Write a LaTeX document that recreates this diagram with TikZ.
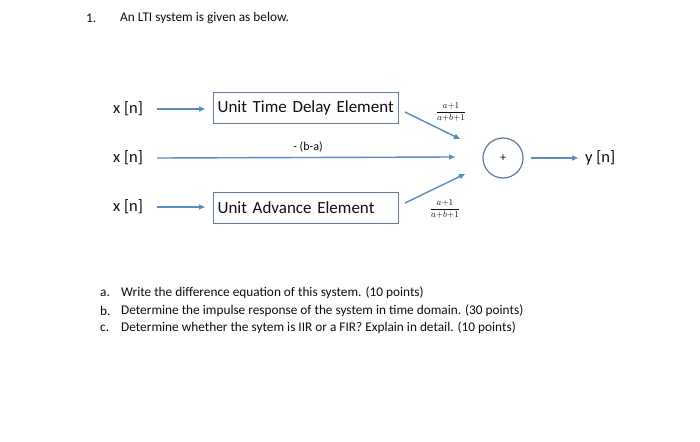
\documentclass[tikz,border=0pt]{standalone}
\usepackage{fontspec}
\setmainfont{Carlito}
\usetikzlibrary{arrows.meta}
\definecolor{ln}{RGB}{88,140,196}
\definecolor{bx}{RGB}{100,122,155}
\definecolor{tx}{RGB}{15,15,15}
\begin{document}
\begin{tikzpicture}[x=1pt,y=-1pt,
  lbl/.style={font=\fontsize{16.5}{18}\selectfont, text=tx, inner sep=0pt, anchor=west},
  blk/.style={draw=bx, line width=1.2pt, minimum height=31pt, text width=177pt, align=left,
    inner xsep=4pt, inner ysep=0pt, font=\fontsize{17}{19}\selectfont, text=tx, anchor=north west},
  arr/.style={draw=ln, line width=1.4pt, -{Triangle[length=6pt,width=5pt]}},
  qtxt/.style={font=\fontsize{13.3}{15}\selectfont, text=tx, inner sep=0pt, anchor=west},
  gain/.style={font=\fontsize{9.5}{11}\selectfont, text=tx, inner sep=0pt}]
\useasboundingbox[fill=white] (0,0) rectangle (700,441);

% title
\node[qtxt] (n1) at (86,18) {1.};
\node[qtxt] (title) at (120,18) {An LTI system is given as below.};

% inputs
\node[lbl] (x1) at (113,109) {x [n]};
\node[lbl] (x2) at (113,158) {x [n]};
\node[lbl] (x3) at (113,207) {x [n]};

% blocks
\node[blk] (d1) at (213,92) {Unit Time Delay Element};
\node[blk] (d3) at (213,192) {Unit Advance Element};

% summer
\node[circle, draw=bx, line width=1.2pt, minimum size=40pt, inner sep=0pt,
  font=\fontsize{12}{14}\selectfont, text=tx] (sum) at (503,158) {+};
\node[lbl] (y) at (585,158) {y [n]};

% input arrows
\draw[arr] ([xshift=14pt]x1.east) -- ([xshift=-8pt]x1.east -| d1.west);
\draw[arr] ([xshift=14pt]x3.east) -- ([xshift=-8pt]x3.east -| d3.west);

% branches
\coordinate (u0) at (405,112);
\coordinate (u1) at (460,139);
\coordinate (m1) at (455,157);
\coordinate (l0) at (405,203);
\coordinate (l1) at (465,174);
\draw[arr] (u0) -- (u1);
\draw[arr] ([xshift=14pt]x2.east) -- (m1);
\draw[arr] (l0) -- (l1);
\draw[arr] ([xshift=7pt]sum.east) -- ([xshift=-7pt]y.west);

% gains
\node[gain] (g1) at (451,112) {$\displaystyle\frac{a{+}1}{a{+}b{+}1}$};
\node[gain] (g3) at (445,209) {$\displaystyle\frac{a{+}1}{a{+}b{+}1}$};
\node[font=\fontsize{12}{14}\selectfont, text=tx, inner sep=0pt] (g2) at (308,147) {- (b-a)};

% questions
\node[qtxt] (qa) at (100,293) {a.};
\node[qtxt] (ta) at (121,293) {Write the difference equation of this system. (10 points)};
\node[qtxt] (qb) at (100,311) {b.};
\node[qtxt] (tb) at (121,311) {Determine the impulse response of the system in time domain. (30 points)};
\node[qtxt] (qc) at (100,328) {c.};
\node[qtxt] (tc) at (121,328) {Determine whether the sytem is IIR or a FIR? Explain in detail. (10 points)};
\end{tikzpicture}
\end{document}
